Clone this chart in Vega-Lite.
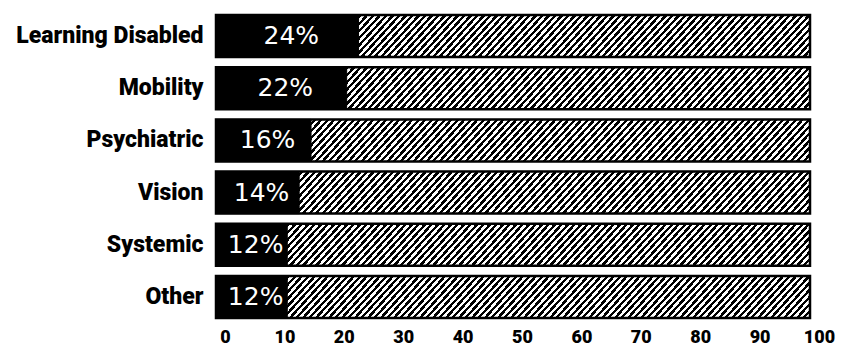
{
  "$schema": "https://vega.github.io/schema/vega-lite/v6.json",
  "width": 594,
  "height": 313,
  "autosize": "none",
  "padding": {"left": 216, "top": 10, "right": 31, "bottom": 25},
  "background": "white",
  "config": {"view": {"stroke": null}},
  "data": {"values": [
    {"category": "Learning Disabled", "pct": 24, "total": 100},
    {"category": "Mobility", "pct": 22, "total": 100},
    {"category": "Psychiatric", "pct": 16, "total": 100},
    {"category": "Vision", "pct": 14, "total": 100},
    {"category": "Systemic", "pct": 12, "total": 100},
    {"category": "Other", "pct": 12, "total": 100}
  ]},
  "encoding": {
    "y": {
      "field": "category", "type": "nominal", "sort": null,
      "scale": {"paddingInner": 0.195, "paddingOuter": 0.0975},
      "axis": {"title": null, "domain": false, "ticks": false, "labelPadding": 13,
        "labelFont": "Roboto", "labelFontWeight": 900, "labelFontSize": 23,
        "labelColor": "black", "labelLimit": 300}
    }
  },
  "resolve": {"scale": {"x": "independent"}},
  "layer": [
    {
      "mark": {"type": "bar", "stroke": "black", "strokeWidth": 2.5,
        "fill": {"gradient": "linear", "x1": 0, "y1": 0, "x2": 1.09, "y2": 0.07006, "stops": [
{"offset":0,"color":"#000"},{"offset":0.005,"color":"#000"},{"offset":0.005,"color":"#fff"},{"offset":0.01,"color":"#fff"},
{"offset":0.01,"color":"#000"},{"offset":0.015,"color":"#000"},{"offset":0.015,"color":"#fff"},{"offset":0.02,"color":"#fff"},
{"offset":0.02,"color":"#000"},{"offset":0.025,"color":"#000"},{"offset":0.025,"color":"#fff"},{"offset":0.03,"color":"#fff"},
{"offset":0.03,"color":"#000"},{"offset":0.035,"color":"#000"},{"offset":0.035,"color":"#fff"},{"offset":0.04,"color":"#fff"},
{"offset":0.04,"color":"#000"},{"offset":0.045,"color":"#000"},{"offset":0.045,"color":"#fff"},{"offset":0.05,"color":"#fff"},
{"offset":0.05,"color":"#000"},{"offset":0.055,"color":"#000"},{"offset":0.055,"color":"#fff"},{"offset":0.06,"color":"#fff"},
{"offset":0.06,"color":"#000"},{"offset":0.065,"color":"#000"},{"offset":0.065,"color":"#fff"},{"offset":0.07,"color":"#fff"},
{"offset":0.07,"color":"#000"},{"offset":0.075,"color":"#000"},{"offset":0.075,"color":"#fff"},{"offset":0.08,"color":"#fff"},
{"offset":0.08,"color":"#000"},{"offset":0.085,"color":"#000"},{"offset":0.085,"color":"#fff"},{"offset":0.09,"color":"#fff"},
{"offset":0.09,"color":"#000"},{"offset":0.095,"color":"#000"},{"offset":0.095,"color":"#fff"},{"offset":0.1,"color":"#fff"},
{"offset":0.1,"color":"#000"},{"offset":0.105,"color":"#000"},{"offset":0.105,"color":"#fff"},{"offset":0.11,"color":"#fff"},
{"offset":0.11,"color":"#000"},{"offset":0.115,"color":"#000"},{"offset":0.115,"color":"#fff"},{"offset":0.12,"color":"#fff"},
{"offset":0.12,"color":"#000"},{"offset":0.125,"color":"#000"},{"offset":0.125,"color":"#fff"},{"offset":0.13,"color":"#fff"},
{"offset":0.13,"color":"#000"},{"offset":0.135,"color":"#000"},{"offset":0.135,"color":"#fff"},{"offset":0.14,"color":"#fff"},
{"offset":0.14,"color":"#000"},{"offset":0.145,"color":"#000"},{"offset":0.145,"color":"#fff"},{"offset":0.15,"color":"#fff"},
{"offset":0.15,"color":"#000"},{"offset":0.155,"color":"#000"},{"offset":0.155,"color":"#fff"},{"offset":0.16,"color":"#fff"},
{"offset":0.16,"color":"#000"},{"offset":0.165,"color":"#000"},{"offset":0.165,"color":"#fff"},{"offset":0.17,"color":"#fff"},
{"offset":0.17,"color":"#000"},{"offset":0.175,"color":"#000"},{"offset":0.175,"color":"#fff"},{"offset":0.18,"color":"#fff"},
{"offset":0.18,"color":"#000"},{"offset":0.185,"color":"#000"},{"offset":0.185,"color":"#fff"},{"offset":0.19,"color":"#fff"},
{"offset":0.19,"color":"#000"},{"offset":0.195,"color":"#000"},{"offset":0.195,"color":"#fff"},{"offset":0.2,"color":"#fff"},
{"offset":0.2,"color":"#000"},{"offset":0.205,"color":"#000"},{"offset":0.205,"color":"#fff"},{"offset":0.21,"color":"#fff"},
{"offset":0.21,"color":"#000"},{"offset":0.215,"color":"#000"},{"offset":0.215,"color":"#fff"},{"offset":0.22,"color":"#fff"},
{"offset":0.22,"color":"#000"},{"offset":0.225,"color":"#000"},{"offset":0.225,"color":"#fff"},{"offset":0.23,"color":"#fff"},
{"offset":0.23,"color":"#000"},{"offset":0.235,"color":"#000"},{"offset":0.235,"color":"#fff"},{"offset":0.24,"color":"#fff"},
{"offset":0.24,"color":"#000"},{"offset":0.245,"color":"#000"},{"offset":0.245,"color":"#fff"},{"offset":0.25,"color":"#fff"},
{"offset":0.25,"color":"#000"},{"offset":0.255,"color":"#000"},{"offset":0.255,"color":"#fff"},{"offset":0.26,"color":"#fff"},
{"offset":0.26,"color":"#000"},{"offset":0.265,"color":"#000"},{"offset":0.265,"color":"#fff"},{"offset":0.27,"color":"#fff"},
{"offset":0.27,"color":"#000"},{"offset":0.275,"color":"#000"},{"offset":0.275,"color":"#fff"},{"offset":0.28,"color":"#fff"},
{"offset":0.28,"color":"#000"},{"offset":0.285,"color":"#000"},{"offset":0.285,"color":"#fff"},{"offset":0.29,"color":"#fff"},
{"offset":0.29,"color":"#000"},{"offset":0.295,"color":"#000"},{"offset":0.295,"color":"#fff"},{"offset":0.3,"color":"#fff"},
{"offset":0.3,"color":"#000"},{"offset":0.305,"color":"#000"},{"offset":0.305,"color":"#fff"},{"offset":0.31,"color":"#fff"},
{"offset":0.31,"color":"#000"},{"offset":0.315,"color":"#000"},{"offset":0.315,"color":"#fff"},{"offset":0.32,"color":"#fff"},
{"offset":0.32,"color":"#000"},{"offset":0.325,"color":"#000"},{"offset":0.325,"color":"#fff"},{"offset":0.33,"color":"#fff"},
{"offset":0.33,"color":"#000"},{"offset":0.335,"color":"#000"},{"offset":0.335,"color":"#fff"},{"offset":0.34,"color":"#fff"},
{"offset":0.34,"color":"#000"},{"offset":0.345,"color":"#000"},{"offset":0.345,"color":"#fff"},{"offset":0.35,"color":"#fff"},
{"offset":0.35,"color":"#000"},{"offset":0.355,"color":"#000"},{"offset":0.355,"color":"#fff"},{"offset":0.36,"color":"#fff"},
{"offset":0.36,"color":"#000"},{"offset":0.365,"color":"#000"},{"offset":0.365,"color":"#fff"},{"offset":0.37,"color":"#fff"},
{"offset":0.37,"color":"#000"},{"offset":0.375,"color":"#000"},{"offset":0.375,"color":"#fff"},{"offset":0.38,"color":"#fff"},
{"offset":0.38,"color":"#000"},{"offset":0.385,"color":"#000"},{"offset":0.385,"color":"#fff"},{"offset":0.39,"color":"#fff"},
{"offset":0.39,"color":"#000"},{"offset":0.395,"color":"#000"},{"offset":0.395,"color":"#fff"},{"offset":0.4,"color":"#fff"},
{"offset":0.4,"color":"#000"},{"offset":0.405,"color":"#000"},{"offset":0.405,"color":"#fff"},{"offset":0.41,"color":"#fff"},
{"offset":0.41,"color":"#000"},{"offset":0.415,"color":"#000"},{"offset":0.415,"color":"#fff"},{"offset":0.42,"color":"#fff"},
{"offset":0.42,"color":"#000"},{"offset":0.425,"color":"#000"},{"offset":0.425,"color":"#fff"},{"offset":0.43,"color":"#fff"},
{"offset":0.43,"color":"#000"},{"offset":0.435,"color":"#000"},{"offset":0.435,"color":"#fff"},{"offset":0.44,"color":"#fff"},
{"offset":0.44,"color":"#000"},{"offset":0.445,"color":"#000"},{"offset":0.445,"color":"#fff"},{"offset":0.45,"color":"#fff"},
{"offset":0.45,"color":"#000"},{"offset":0.455,"color":"#000"},{"offset":0.455,"color":"#fff"},{"offset":0.46,"color":"#fff"},
{"offset":0.46,"color":"#000"},{"offset":0.465,"color":"#000"},{"offset":0.465,"color":"#fff"},{"offset":0.47,"color":"#fff"},
{"offset":0.47,"color":"#000"},{"offset":0.475,"color":"#000"},{"offset":0.475,"color":"#fff"},{"offset":0.48,"color":"#fff"},
{"offset":0.48,"color":"#000"},{"offset":0.485,"color":"#000"},{"offset":0.485,"color":"#fff"},{"offset":0.49,"color":"#fff"},
{"offset":0.49,"color":"#000"},{"offset":0.495,"color":"#000"},{"offset":0.495,"color":"#fff"},{"offset":0.5,"color":"#fff"},
{"offset":0.5,"color":"#000"},{"offset":0.505,"color":"#000"},{"offset":0.505,"color":"#fff"},{"offset":0.51,"color":"#fff"},
{"offset":0.51,"color":"#000"},{"offset":0.515,"color":"#000"},{"offset":0.515,"color":"#fff"},{"offset":0.52,"color":"#fff"},
{"offset":0.52,"color":"#000"},{"offset":0.525,"color":"#000"},{"offset":0.525,"color":"#fff"},{"offset":0.53,"color":"#fff"},
{"offset":0.53,"color":"#000"},{"offset":0.535,"color":"#000"},{"offset":0.535,"color":"#fff"},{"offset":0.54,"color":"#fff"},
{"offset":0.54,"color":"#000"},{"offset":0.545,"color":"#000"},{"offset":0.545,"color":"#fff"},{"offset":0.55,"color":"#fff"},
{"offset":0.55,"color":"#000"},{"offset":0.555,"color":"#000"},{"offset":0.555,"color":"#fff"},{"offset":0.56,"color":"#fff"},
{"offset":0.56,"color":"#000"},{"offset":0.565,"color":"#000"},{"offset":0.565,"color":"#fff"},{"offset":0.57,"color":"#fff"},
{"offset":0.57,"color":"#000"},{"offset":0.575,"color":"#000"},{"offset":0.575,"color":"#fff"},{"offset":0.58,"color":"#fff"},
{"offset":0.58,"color":"#000"},{"offset":0.585,"color":"#000"},{"offset":0.585,"color":"#fff"},{"offset":0.59,"color":"#fff"},
{"offset":0.59,"color":"#000"},{"offset":0.595,"color":"#000"},{"offset":0.595,"color":"#fff"},{"offset":0.6,"color":"#fff"},
{"offset":0.6,"color":"#000"},{"offset":0.605,"color":"#000"},{"offset":0.605,"color":"#fff"},{"offset":0.61,"color":"#fff"},
{"offset":0.61,"color":"#000"},{"offset":0.615,"color":"#000"},{"offset":0.615,"color":"#fff"},{"offset":0.62,"color":"#fff"},
{"offset":0.62,"color":"#000"},{"offset":0.625,"color":"#000"},{"offset":0.625,"color":"#fff"},{"offset":0.63,"color":"#fff"},
{"offset":0.63,"color":"#000"},{"offset":0.635,"color":"#000"},{"offset":0.635,"color":"#fff"},{"offset":0.64,"color":"#fff"},
{"offset":0.64,"color":"#000"},{"offset":0.645,"color":"#000"},{"offset":0.645,"color":"#fff"},{"offset":0.65,"color":"#fff"},
{"offset":0.65,"color":"#000"},{"offset":0.655,"color":"#000"},{"offset":0.655,"color":"#fff"},{"offset":0.66,"color":"#fff"},
{"offset":0.66,"color":"#000"},{"offset":0.665,"color":"#000"},{"offset":0.665,"color":"#fff"},{"offset":0.67,"color":"#fff"},
{"offset":0.67,"color":"#000"},{"offset":0.675,"color":"#000"},{"offset":0.675,"color":"#fff"},{"offset":0.68,"color":"#fff"},
{"offset":0.68,"color":"#000"},{"offset":0.685,"color":"#000"},{"offset":0.685,"color":"#fff"},{"offset":0.69,"color":"#fff"},
{"offset":0.69,"color":"#000"},{"offset":0.695,"color":"#000"},{"offset":0.695,"color":"#fff"},{"offset":0.7,"color":"#fff"},
{"offset":0.7,"color":"#000"},{"offset":0.705,"color":"#000"},{"offset":0.705,"color":"#fff"},{"offset":0.71,"color":"#fff"},
{"offset":0.71,"color":"#000"},{"offset":0.715,"color":"#000"},{"offset":0.715,"color":"#fff"},{"offset":0.72,"color":"#fff"},
{"offset":0.72,"color":"#000"},{"offset":0.725,"color":"#000"},{"offset":0.725,"color":"#fff"},{"offset":0.73,"color":"#fff"},
{"offset":0.73,"color":"#000"},{"offset":0.735,"color":"#000"},{"offset":0.735,"color":"#fff"},{"offset":0.74,"color":"#fff"},
{"offset":0.74,"color":"#000"},{"offset":0.745,"color":"#000"},{"offset":0.745,"color":"#fff"},{"offset":0.75,"color":"#fff"},
{"offset":0.75,"color":"#000"},{"offset":0.755,"color":"#000"},{"offset":0.755,"color":"#fff"},{"offset":0.76,"color":"#fff"},
{"offset":0.76,"color":"#000"},{"offset":0.765,"color":"#000"},{"offset":0.765,"color":"#fff"},{"offset":0.77,"color":"#fff"},
{"offset":0.77,"color":"#000"},{"offset":0.775,"color":"#000"},{"offset":0.775,"color":"#fff"},{"offset":0.78,"color":"#fff"},
{"offset":0.78,"color":"#000"},{"offset":0.785,"color":"#000"},{"offset":0.785,"color":"#fff"},{"offset":0.79,"color":"#fff"},
{"offset":0.79,"color":"#000"},{"offset":0.795,"color":"#000"},{"offset":0.795,"color":"#fff"},{"offset":0.8,"color":"#fff"},
{"offset":0.8,"color":"#000"},{"offset":0.805,"color":"#000"},{"offset":0.805,"color":"#fff"},{"offset":0.81,"color":"#fff"},
{"offset":0.81,"color":"#000"},{"offset":0.815,"color":"#000"},{"offset":0.815,"color":"#fff"},{"offset":0.82,"color":"#fff"},
{"offset":0.82,"color":"#000"},{"offset":0.825,"color":"#000"},{"offset":0.825,"color":"#fff"},{"offset":0.83,"color":"#fff"},
{"offset":0.83,"color":"#000"},{"offset":0.835,"color":"#000"},{"offset":0.835,"color":"#fff"},{"offset":0.84,"color":"#fff"},
{"offset":0.84,"color":"#000"},{"offset":0.845,"color":"#000"},{"offset":0.845,"color":"#fff"},{"offset":0.85,"color":"#fff"},
{"offset":0.85,"color":"#000"},{"offset":0.855,"color":"#000"},{"offset":0.855,"color":"#fff"},{"offset":0.86,"color":"#fff"},
{"offset":0.86,"color":"#000"},{"offset":0.865,"color":"#000"},{"offset":0.865,"color":"#fff"},{"offset":0.87,"color":"#fff"},
{"offset":0.87,"color":"#000"},{"offset":0.875,"color":"#000"},{"offset":0.875,"color":"#fff"},{"offset":0.88,"color":"#fff"},
{"offset":0.88,"color":"#000"},{"offset":0.885,"color":"#000"},{"offset":0.885,"color":"#fff"},{"offset":0.89,"color":"#fff"},
{"offset":0.89,"color":"#000"},{"offset":0.895,"color":"#000"},{"offset":0.895,"color":"#fff"},{"offset":0.9,"color":"#fff"},
{"offset":0.9,"color":"#000"},{"offset":0.905,"color":"#000"},{"offset":0.905,"color":"#fff"},{"offset":0.91,"color":"#fff"},
{"offset":0.91,"color":"#000"},{"offset":0.915,"color":"#000"},{"offset":0.915,"color":"#fff"},{"offset":0.92,"color":"#fff"},
{"offset":0.92,"color":"#000"},{"offset":0.925,"color":"#000"},{"offset":0.925,"color":"#fff"},{"offset":0.93,"color":"#fff"},
{"offset":0.93,"color":"#000"},{"offset":0.935,"color":"#000"},{"offset":0.935,"color":"#fff"},{"offset":0.94,"color":"#fff"},
{"offset":0.94,"color":"#000"},{"offset":0.945,"color":"#000"},{"offset":0.945,"color":"#fff"},{"offset":0.95,"color":"#fff"},
{"offset":0.95,"color":"#000"},{"offset":0.955,"color":"#000"},{"offset":0.955,"color":"#fff"},{"offset":0.96,"color":"#fff"},
{"offset":0.96,"color":"#000"},{"offset":0.965,"color":"#000"},{"offset":0.965,"color":"#fff"},{"offset":0.97,"color":"#fff"},
{"offset":0.97,"color":"#000"},{"offset":0.975,"color":"#000"},{"offset":0.975,"color":"#fff"},{"offset":0.98,"color":"#fff"},
{"offset":0.98,"color":"#000"},{"offset":0.985,"color":"#000"},{"offset":0.985,"color":"#fff"},{"offset":0.99,"color":"#fff"},
{"offset":0.99,"color":"#000"},{"offset":0.995,"color":"#000"},{"offset":0.995,"color":"#fff"},{"offset":1,"color":"#fff"}
        ]}},
      "encoding": {
        "x": {"field": "total", "type": "quantitative", "scale": {"domain": [0, 100]},
          "axis": {"title": null, "domain": false, "ticks": false, "grid": false,
            "values": [0, 10, 20, 30, 40, 50, 60, 70, 80, 90, 100],
            "labelFont": "Roboto", "labelFontWeight": 900, "labelFontSize": 18,
            "labelColor": "black", "labelPadding": 5, "labelOffset": 9,
            "labelOverlap": false, "labelFlush": false}}
      }
    },
    {
      "mark": {"type": "bar", "fill": "black", "stroke": "black", "strokeWidth": 1},
      "encoding": {
        "x": {"field": "pct", "type": "quantitative", "scale": {"domain": [0, 100]}, "axis": null}
      }
    },
    {
      "mark": {"type": "text", "color": "white", "font": "DejaVu Sans", "fontSize": 25,
        "align": "center", "baseline": "middle", "dx": 4,
        "text": {"expr": "datum.pct + '%'"}},
      "encoding": {
        "x": {"field": "pct", "type": "quantitative", "scale": {"domain": [0, 200]}, "axis": null}
      }
    }
  ]
}
